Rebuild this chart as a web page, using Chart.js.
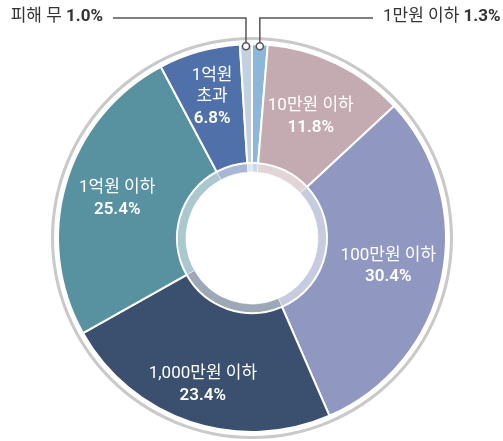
<!DOCTYPE html>
<html lang="ko">
<head>
    <meta charset="UTF-8">
    <title>피해 금액 분포</title>
    <script src="https://cdn.jsdelivr.net/npm/chart.js"></script>
    <style>
        body {
            margin: 0;
            padding: 0;
            background-color: #ffffff;
        }
        canvas {
            display: block;
        }
    </style>
</head>
<body>
    <canvas id="lossChart" width="503" height="441"></canvas>

    <script>
        // Categories, clockwise from the top
        const categories = ['1만원 이하', '10만원 이하', '100만원 이하', '1,000만원 이하', '1억원 이하', '1억원 초과', '피해 무'];
        const shares = [1.3, 11.8, 30.4, 23.4, 25.4, 6.8, 1.0];
        const sliceColors = ['#8cb6da', '#c4abb1', '#9098c2', '#3b4f6e', '#5892a0', '#4f70a9', '#c2d0e0'];

        // Lines drawn inside each slice (name may wrap)
        const insideLines = [null, ['10만원 이하'], ['100만원 이하'], ['1,000만원 이하'], ['1억원 이하'], ['1억원', '초과'], null];
        // How far out along the slice the text sits (0 = inner edge, 1 = outer edge)
        const labelDepth = [0, 0.5, 0.54, 0.67, 0.55, 0.6, 0];

        const FONT = "Roboto, 'Noto Sans CJK KR', sans-serif";

        function fade(hex, a) {
            const n = parseInt(hex.slice(1), 16);
            return 'rgba(' + (n >> 16) + ',' + ((n >> 8) & 255) + ',' + (n & 255) + ',' + a + ')';
        }

        // Draws the text labels and the two leader lines at the top
        const labelPlugin = {
            id: 'sliceLabels',
            afterDatasetsDraw(chart) {
                const ctx = chart.ctx;
                const arcs = chart.getDatasetMeta(2).data;
                ctx.save();
                ctx.textAlign = 'center';
                ctx.textBaseline = 'middle';
                ctx.fillStyle = '#ffffff';

                arcs.forEach((arc, i) => {
                    if (!insideLines[i]) return;
                    const p = arc.getProps(['x', 'y', 'startAngle', 'endAngle', 'innerRadius', 'outerRadius']);
                    const mid = (p.startAngle + p.endAngle) / 2;
                    const r = p.innerRadius + (p.outerRadius - p.innerRadius) * labelDepth[i];
                    const cx = p.x + Math.cos(mid) * r;
                    const cy = p.y + Math.sin(mid) * r;
                    const lines = insideLines[i].concat([shares[i].toFixed(1) + '%']);
                    const step = 21.5;
                    const top = cy - (lines.length - 1) * step / 2;
                    lines.forEach((t, k) => {
                        const last = k === lines.length - 1;
                        ctx.font = (last ? '600 ' : '') + '17px ' + FONT;
                        ctx.fillText(t, cx, top + k * step);
                    });
                });

                // leader lines for the two thin slices
                const lineY = 18;
                [[6, 'left', 113], [0, 'right', 373]].forEach(([i, side, endX]) => {
                    const p = arcs[i].getProps(['x', 'y', 'startAngle', 'endAngle', 'outerRadius']);
                    const mid = (p.startAngle + p.endAngle) / 2;
                    const r = p.outerRadius - 2;
                    const dx = p.x + Math.cos(mid) * r;
                    const dy = p.y + Math.sin(mid) * r;

                    ctx.strokeStyle = '#555555';
                    ctx.lineWidth = 1.5;
                    ctx.beginPath();
                    ctx.moveTo(dx, dy - 3.5);
                    ctx.lineTo(dx, lineY);
                    ctx.lineTo(endX, lineY);
                    ctx.stroke();

                    ctx.beginPath();
                    ctx.arc(dx, dy, 3.5, 0, Math.PI * 2);
                    ctx.fillStyle = '#ffffff';
                    ctx.fill();
                    ctx.stroke();

                    // text: name regular + value bold
                    const name = categories[i] + ' ';
                    const value = shares[i].toFixed(1) + '%';
                    ctx.fillStyle = '#333333';
                    ctx.textAlign = 'left';
                    ctx.font = '17px ' + FONT;
                    const w1 = ctx.measureText(name).width;
                    ctx.font = 'bold 17px ' + FONT;
                    const w2 = ctx.measureText(value).width;
                    const startX = side === 'left' ? endX - 10 - w1 - w2 : endX + 10;
                    ctx.font = '17px ' + FONT;
                    ctx.fillText(name, startX, lineY - 1);
                    ctx.font = 'bold 17px ' + FONT;
                    ctx.fillText(value, startX + w1, lineY - 1);
                });
                ctx.restore();
            }
        };

        const ctx = document.getElementById('lossChart').getContext('2d');
        new Chart(ctx, {
            type: 'doughnut',
            data: {
                labels: categories,
                datasets: [
                    {
                        // thin grey outer ring
                        data: [100],
                        backgroundColor: ['#c9c9c9'],
                        borderWidth: 0,
                        weight: 3
                    },
                    {
                        // white gap
                        data: [100],
                        backgroundColor: ['rgba(0,0,0,0)'],
                        borderWidth: 0,
                        weight: 4
                    },
                    {
                        data: shares,
                        backgroundColor: sliceColors,
                        borderColor: '#ffffff',
                        borderWidth: 2,
                        weight: 118
                    },
                    {
                        // pale inner band
                        data: shares,
                        backgroundColor: sliceColors.map(c => fade(c, 0.5)),
                        borderColor: '#ffffff',
                        borderWidth: 0.5,
                        weight: 9
                    }
                ]
            },
            options: {
                responsive: false,
                animation: false,
                events: [],
                cutout: 66,
                layout: {
                    padding: { left: 51, right: 50, top: 37, bottom: 2 }
                },
                plugins: {
                    legend: { display: false },
                    tooltip: { enabled: false }
                }
            },
            plugins: [labelPlugin]
        });
    </script>
</body>
</html>
